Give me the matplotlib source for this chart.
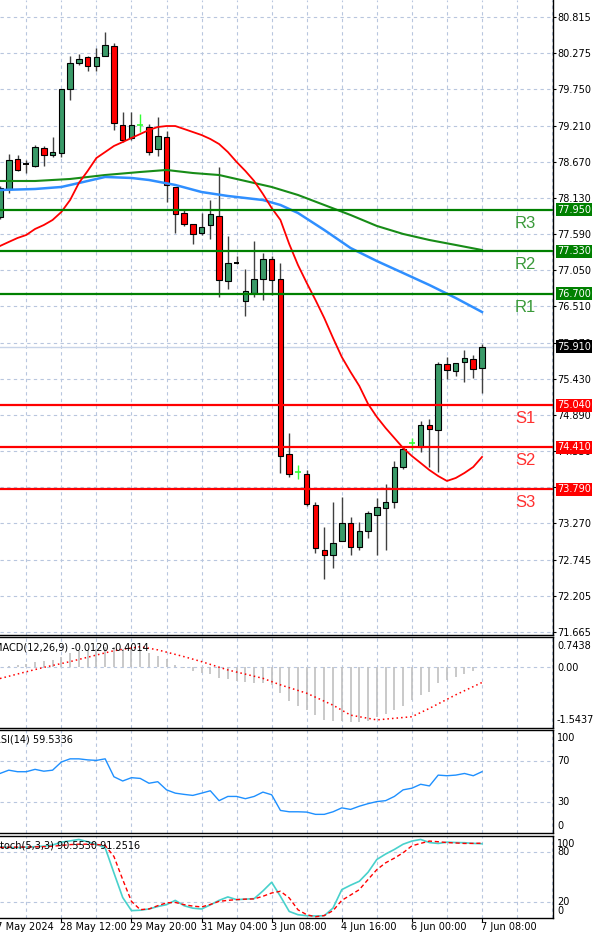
import numpy as np
import matplotlib.pyplot as plt

# ---- H4 candles, oldest first ----
opens = [77.839, 78.256, 78.702, 78.628, 78.598, 78.866, 78.762, 78.792, 79.744, 80.131,
         80.220, 80.086, 80.235, 80.384, 79.208, 79.015, 79.208, 79.178, 78.851, 79.030,
         78.286, 77.899, 77.735, 77.601, 77.720, 77.855, 76.887, 77.155, 76.590, 76.709,
         76.917, 77.215, 76.917, 74.313, 74.046, 74.016, 73.555, 72.885, 72.811, 73.019,
         73.287, 72.930, 73.168, 73.406, 73.510, 73.600, 74.120, 74.477, 74.417, 74.745,
         74.670, 75.652, 75.548, 75.682, 75.726, 75.593]
highs = [78.301, 78.777, 78.762, 78.688, 78.911, 78.896, 79.030, 79.744, 80.235, 80.265,
         80.235, 80.354, 80.592, 80.428, 79.402, 79.402, 79.372, 79.223, 79.327, 79.119,
         78.286, 77.944, 77.735, 77.899, 78.092, 78.583, 77.557, 77.259, 77.066, 77.483,
         77.304, 77.259, 77.155, 74.626, 74.150, 74.075, 73.600, 73.227, 73.600, 73.674,
         73.376, 73.302, 73.465, 73.659, 73.867, 74.209, 74.432, 74.551, 74.804, 74.834,
         75.682, 75.757, 75.667, 75.860, 75.786, 75.950]
lows = [77.810, 78.197, 78.524, 78.494, 78.583, 78.598, 78.732, 78.732, 79.580, 80.101,
        80.012, 80.012, 80.235, 79.134, 78.955, 78.985, 79.104, 78.762, 78.747, 78.063,
        77.601, 77.706, 77.438, 77.572, 77.512, 76.650, 76.768, 77.140, 76.367, 76.650,
        76.605, 76.679, 74.031, 73.971, 73.941, 73.540, 72.841, 72.454, 72.617, 73.019,
        72.811, 72.885, 73.064, 72.811, 72.885, 73.510, 74.090, 74.373, 74.343, 74.120,
        74.046, 75.429, 75.474, 75.384, 75.444, 75.221]
closes = [78.271, 78.688, 78.539, 78.628, 78.881, 78.762, 78.807, 79.744, 80.131, 80.190,
          80.086, 80.220, 80.398, 79.238, 78.980, 79.208, 79.208, 78.807, 79.045, 78.316,
          77.884, 77.735, 77.587, 77.691, 77.884, 76.902, 77.155, 77.155, 76.739, 76.917,
          77.215, 76.902, 74.284, 74.016, 74.046, 73.570, 72.915, 72.811, 72.989, 73.287,
          72.930, 73.168, 73.436, 73.525, 73.600, 74.120, 74.388, 74.477, 74.745, 74.685,
          75.652, 75.563, 75.667, 75.741, 75.578, 75.905]
lime_doji = [16, 34, 47]

# moving averages
ma_red = [77.408, 77.468, 77.527, 77.572, 77.661, 77.720, 77.795, 77.914, 78.092, 78.345,
          78.524, 78.717, 78.806, 78.896, 78.955, 79.015, 79.074, 79.134, 79.178, 79.193,
          79.193, 79.149, 79.104, 79.059, 79.000, 78.925, 78.806, 78.658, 78.524, 78.375,
          78.182, 77.973, 77.795, 77.438, 77.125, 76.858, 76.604, 76.336, 76.039, 75.756,
          75.533, 75.325, 75.057, 74.864, 74.700, 74.551, 74.402, 74.283, 74.179, 74.074,
          73.985, 73.912, 73.956, 74.031, 74.120, 74.269]
ma_green_idx = [0, 4, 8, 12, 16, 19, 22, 25, 28, 31, 34, 37, 40, 43, 46, 49, 52, 55]
ma_green = [78.375, 78.375, 78.405, 78.464, 78.509, 78.539, 78.494, 78.464, 78.375,
            78.286, 78.167, 78.018, 77.869, 77.706, 77.587, 77.497, 77.423, 77.348]
ma_blue_idx = [0, 4, 7, 9, 12, 15, 17, 20, 23, 26, 30, 32, 34, 37, 40, 43, 46, 49, 52, 55]
ma_blue = [78.241, 78.256, 78.286, 78.345, 78.435, 78.420, 78.390, 78.316, 78.211, 78.152,
           78.092, 78.018, 77.899, 77.646, 77.378, 77.184, 77.006, 76.827, 76.634, 76.426]

# pivot levels
res_names = ['R3', 'R2', 'R1']
res_levels = [77.950, 77.330, 76.700]
sup_names = ['S1', 'S2', 'S3']
sup_levels = [75.040, 74.410, 73.790]
bid = 75.910

price_labels = ['80.815', '80.275', '79.750', '79.210', '78.670', '78.130', '77.590',
                '77.050', '76.510', '75.970', '75.430', '74.890', '74.350', '73.810',
                '73.270', '72.745', '72.205', '71.665']

date_idx = [-1, 7, 15, 23, 31, 39, 47, 55]
date_labels = ['27 May 2024', '28 May 12:00', '29 May 20:00', '31 May 04:00',
               '3 Jun 08:00', '4 Jun 16:00', '6 Jun 00:00', '7 Jun 08:00']

# indicators
macd_hist = [0.00, 0.02, 0.04, 0.07, 0.12, 0.15, 0.17, 0.25, 0.33, 0.38,
             0.42, 0.45, 0.50, 0.48, 0.45, 0.43, 0.40, 0.34, 0.27, 0.20,
             0.05, -0.04, -0.10, -0.15, -0.18, -0.28, -0.32, -0.35, -0.38, -0.40,
             -0.42, -0.47, -0.67, -0.86, -0.99, -1.09, -1.22, -1.34, -1.37, -1.38,
             -1.40, -1.40, -1.36, -1.27, -1.18, -1.09, -0.99, -0.85, -0.72, -0.63,
             -0.40, -0.34, -0.26, -0.19, -0.12, -0.012]
macd_sig_idx = [0, 3, 5, 8, 11, 13, 16, 18, 21, 23, 26, 30, 32, 35, 38, 40, 43, 47, 49, 52, 55]
macd_sig = [-0.30, -0.13, -0.02, 0.125, 0.29, 0.40, 0.50, 0.42, 0.25, 0.125, -0.085,
            -0.295, -0.46, -0.67, -0.97, -1.22, -1.34, -1.26, -1.05, -0.71, -0.40]
rsi = [57.8, 61.0, 59.5, 59.5, 61.8, 60.0, 61.0, 68.9, 72.0, 72.0,
       71.0, 70.5, 72.0, 54.6, 50.5, 53.7, 53.0, 48.3, 49.8, 41.9,
       38.7, 37.5, 36.5, 38.7, 41.0, 31.4, 35.5, 35.5, 33.3, 35.5,
       39.7, 37.1, 21.9, 20.6, 20.6, 20.3, 18.1, 18.1, 20.6, 24.4,
       22.9, 26.0, 28.5, 30.5, 31.4, 35.5, 41.9, 43.5, 47.3, 45.7,
       56.2, 55.6, 56.2, 57.8, 55.6, 59.53]
stoch_main = [86.9, 86.0, 85.7, 86.5, 87.0, 87.6, 89.0, 92.5, 94.0, 95.8,
              93.0, 89.7, 85.7, 55.0, 25.0, 9.0, 9.5, 11.0, 14.0, 16.3,
              21.5, 15.0, 12.0, 11.0, 16.0, 21.5, 25.7, 22.4, 23.0, 23.6,
              33.0, 43.6, 26.4, 8.0, 4.0, 2.8, 2.5, 2.8, 12.2, 34.6,
              40.0, 44.8, 55.8, 71.4, 78.0, 83.6, 90.0, 93.8, 95.8, 92.0,
              90.9, 92.5, 92.0, 91.8, 91.0, 90.55]
stoch_sig = [86.0, 86.3, 86.5, 86.5, 86.8, 87.0, 87.5, 88.5, 89.5, 90.0,
             90.0, 89.7, 88.5, 75.0, 46.9, 20.3, 10.2, 11.0, 15.0, 18.5,
             19.0, 16.3, 14.5, 13.5, 16.5, 20.3, 21.5, 22.4, 23.0, 23.3,
             26.5, 30.5, 32.6, 24.5, 10.0, 4.0, 1.5, 3.0, 9.0, 21.5,
             28.0, 34.6, 47.0, 59.0, 67.3, 73.0, 79.6, 88.0, 91.0, 93.8,
             93.0, 92.0, 91.5, 90.9, 91.0, 91.25]

W, H = 600, 941
GRID = '#b8c6de'
DASH = (0, (3, 3))
XMAX = 63.1

fig = plt.figure(figsize=(W / 100, H / 100), dpi=100)
grid_x = np.arange(-1, 64, 4)


def panel(y0, y1):
    ax = fig.add_axes([0, 1 - y1 / H, 553 / W, (y1 - y0) / H])
    ax.set_xlim(0, XMAX)
    ax.spines['left'].set_visible(False)
    for s in ax.spines.values():
        s.set_linewidth(1.0)
    ax.tick_params(left=False, labelleft=False, bottom=False, labelbottom=False)
    for gx in grid_x:
        ax.axvline(gx, color=GRID, lw=0.8, ls=DASH, zorder=0)
    return ax


def side_label(ax, txt, yval, dy=0):
    ax.annotate(txt, xy=(1, yval), xycoords=ax.get_yaxis_transform(),
                xytext=(4, dy), textcoords='offset pixels', va='center', ha='left',
                fontsize=7, annotation_clip=False)


def title(ax, txt, dy):
    ax.annotate(txt, xy=(0, 1), xycoords='axes fraction', xytext=(-6, dy),
                textcoords='offset pixels', va='center', ha='left', fontsize=7,
                annotation_clip=False)


# ---- main price panel ----
ax = panel(0, 635)
ax.spines['top'].set_visible(False)
ax.set_ylim(71.620, 81.068)
tick_pos = np.linspace(80.815, 71.665, len(price_labels))
ax.yaxis.tick_right()
ax.set_yticks(tick_pos, price_labels)
ax.tick_params(axis='y', right=True, labelright=True, length=2, pad=1, labelsize=7)
for ty in tick_pos:
    ax.axhline(ty, color=GRID, lw=0.8, ls=DASH, zorder=0)

o = np.array(opens)
h = np.array(highs)
lo = np.array(lows)
c = np.array(closes)
x = np.arange(len(o))
up = c > o
dn = c < o
flat = c == o
lime = np.isin(x, lime_doji)

ax.vlines(x[~lime], lo[~lime], h[~lime], color='#404040', lw=1.0, zorder=2)
ax.vlines(x[lime], lo[lime], h[lime], color='#33ff33', lw=1.0, zorder=2)
ax.bar(x[up], (c - o)[up], bottom=o[up], width=0.63, color='#3a9a68',
       edgecolor='black', lw=0.8, zorder=3)
ax.bar(x[dn], (c - o)[dn], bottom=o[dn], width=0.63, color='#ff0000',
       edgecolor='black', lw=0.8, zorder=3)
ax.hlines(o[flat & ~lime], x[flat & ~lime] - 0.32, x[flat & ~lime] + 0.32,
          color='black', lw=1.4, zorder=3)
ax.hlines(o[flat & lime], x[flat & lime] - 0.32, x[flat & lime] + 0.32,
          color='#33ff33', lw=1.2, zorder=3)

ax.plot(ma_green_idx, ma_green, color='#178c17', lw=1.5, zorder=4)
ax.plot(ma_blue_idx, ma_blue, color='#2f8fff', lw=1.8, zorder=4)
ax.plot(x, ma_red, color='#ff0000', lw=1.3, zorder=4)

ax.axhline(bid, color='#c8d4e8', lw=1.0, zorder=1)

for name, lvl in zip(res_names, res_levels):
    ax.axhline(lvl, color='#008000', lw=1.6, zorder=5)
    ax.annotate(name, xy=(515 / 553, lvl), xycoords=ax.get_yaxis_transform(),
                xytext=(0, -6), textcoords='offset pixels', va='top', ha='left',
                fontsize=12, family='Liberation Sans', color='#3a9a3a', zorder=6)
for name, lvl in zip(sup_names, sup_levels):
    ax.axhline(lvl, color='#ff0000', lw=1.6, zorder=5)
    ax.annotate(name, xy=(515 / 553, lvl), xycoords=ax.get_yaxis_transform(),
                xytext=(0, -6), textcoords='offset pixels', va='top', ha='left',
                fontsize=12, family='Liberation Sans', color='#ff3030', zorder=6)

boxes = [(v, '#008000') for v in res_levels] + [(v, '#ff0000') for v in sup_levels]
boxes.append((bid, '#000000'))
for lvl, col in boxes:
    ax.annotate(f'{lvl:.3f}', xy=(1, lvl), xycoords=ax.get_yaxis_transform(),
                xytext=(4, 0), textcoords='offset pixels', va='center', ha='left',
                fontsize=7, color='white', zorder=10, annotation_clip=False,
                bbox=dict(boxstyle='square,pad=0.15', fc=col, ec='none'))

# ---- MACD ----
axm = panel(637, 728)
axm.set_ylim(-1.5437, 0.7438)
axm.set_yticks([])
axm.axhline(0, color=GRID, lw=0.8, ls=DASH, zorder=0)
axm.vlines(x, 0, macd_hist, color='#c0c0c0', lw=1.2, zorder=2)
axm.plot(macd_sig_idx, macd_sig, color='#ff0000', lw=1.1, ls=(0, (1, 2)), zorder=3)
title(axm, 'MACD(12,26,9) -0.0120 -0.4014', -10)
side_label(axm, '0.7438', 0.7438, -9)
side_label(axm, '0.00', 0, -1)
side_label(axm, '-1.5437', -1.5437, 8)

# ---- RSI ----
axr = panel(730, 833)
axr.set_ylim(0, 100)
axr.set_yticks([])
for lvl in (70, 30):
    axr.axhline(lvl, color=GRID, lw=0.8, ls=DASH, zorder=0)
axr.plot(x, rsi, color='#1e90ff', lw=1.0, zorder=3)
title(axr, 'RSI(14) 59.5336', -9)
side_label(axr, '100', 100, -8)
side_label(axr, '70', 70)
side_label(axr, '30', 30)
side_label(axr, '0', 0, 7)

# ---- Stochastic ----
axs = panel(836, 918)
axs.set_ylim(0, 100)
axs.set_yticks([])
for lvl in (80, 20):
    axs.axhline(lvl, color=GRID, lw=0.8, ls=DASH, zorder=0)
axs.plot(x, stoch_main, color='#48d1cc', lw=1.2, zorder=3)
axs.plot(x, stoch_sig, color='#ff0000', lw=1.0, ls=(0, (3, 2)), zorder=3)
title(axs, 'Stoch(5,3,3) 90.5530 91.2516', -10)
side_label(axs, '100', 100, -8)
side_label(axs, '80', 80)
side_label(axs, '20', 20)
side_label(axs, '0', 0, 7)

axs.set_xticks([d for d in date_idx if 0 <= d <= XMAX])
axs.tick_params(axis='x', bottom=True, length=3, labelbottom=False)
for d, lbl in zip(date_idx, date_labels):
    axs.annotate(lbl, xy=(d, 0), xycoords=axs.get_xaxis_transform(),
                 xytext=(-1, -4), textcoords='offset pixels', va='top', ha='left',
                 fontsize=7, annotation_clip=False)

plt.savefig('out.png', dpi=100)
plt.close()
